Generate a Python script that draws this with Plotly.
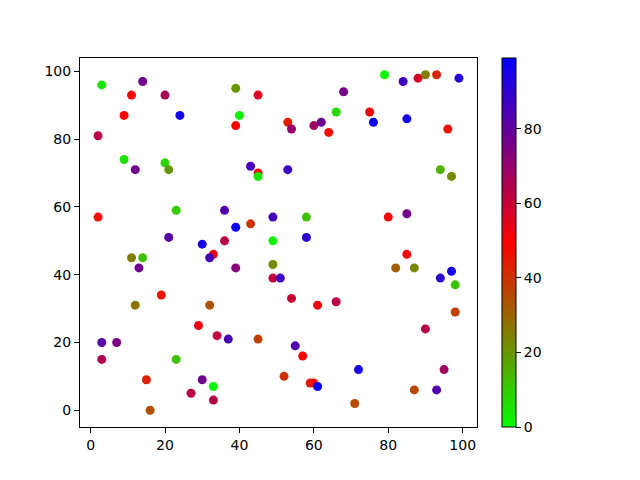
import plotly.graph_objects as go

x_vals = [3, 14, 11, 20, 9, 24, 2, 9, 12, 20, 21, 39, 45, 68, 40, 66, 39, 53, 54, 60,
          62, 64, 43, 45, 45, 53, 79, 84, 88, 90, 93, 99, 75, 76, 85, 96, 94, 97, 2, 23,
          21, 30, 33, 32, 11, 14, 13, 19, 12, 32, 36, 39, 43, 49, 58, 58, 36, 49, 39, 49,
          49, 51, 54, 61, 66, 80, 85, 85, 82, 87, 97, 94, 98, 29, 34, 3, 7, 3, 23, 15,
          30, 33, 27, 33, 16, 37, 45, 55, 57, 52, 59, 60, 61, 98, 90, 72, 95, 87, 93, 71]
y_vals = [96, 97, 93, 93, 87, 87, 81, 74, 71, 73, 71, 95, 93, 94, 87, 88, 84, 85, 83, 84,
          85, 82, 72, 70, 69, 71, 99, 97, 98, 99, 99, 98, 88, 85, 86, 83, 71, 69, 57, 59,
          51, 49, 46, 45, 45, 45, 42, 34, 31, 31, 59, 54, 55, 57, 57, 51, 50, 50, 42, 43,
          39, 39, 33, 31, 32, 57, 58, 46, 42, 42, 41, 39, 37, 25, 22, 20, 20, 15, 15, 9,
          9, 7, 5, 3, 0, 21, 21, 19, 16, 10, 8, 8, 7, 29, 24, 12, 12, 6, 6, 2]
c_vals = [5, 77, 50, 66, 50, 95, 63, 6, 77, 8, 20, 20, 56, 76, 3, 8, 50, 44, 70, 68,
          78, 46, 85, 49, 5, 87, 2, 87, 57, 25, 42, 92, 52, 96, 95, 46, 15, 23, 48, 10,
          82, 95, 52, 85, 25, 12, 77, 46, 27, 33, 83, 97, 40, 86, 12, 90, 63, 3, 73, 22,
          62, 87, 60, 52, 63, 50, 77, 49, 31, 23, 96, 90, 12, 53, 62, 82, 75, 65, 12, 43,
          77, 2, 63, 64, 34, 85, 37, 83, 50, 40, 45, 47, 97, 37, 64, 95, 68, 36, 83, 35]
color_min = 0
color_max = 99
cbar_ticks = [0, 20, 40, 60, 80]
axis_ticks = [0, 20, 40, 60, 80, 100]

def padded(vals):
    lo, hi = min(vals), max(vals)
    p = (hi - lo) * 0.05
    return [lo - p, hi + p]

font = dict(family="DejaVu Sans", size=14, color="black")

fig = go.Figure(go.Scatter(
    x=x_vals, y=y_vals, mode="markers",
    marker=dict(
        size=9, color=c_vals, cmin=color_min, cmax=color_max,
        colorscale=[[0, "#00ff00"], [0.5, "#ff0000"], [1, "#0000ff"]],
        line=dict(width=0),
        colorbar=dict(
            x=1.063, xanchor="left", xref="paper", y=0.5, yanchor="middle",
            len=1, lenmode="fraction", thickness=14, xpad=0, ypad=0,
            outlinewidth=1, outlinecolor="black",
            tickmode="array", tickvals=cbar_ticks,
            ticks="outside", ticklen=5, tickwidth=1, tickcolor="black",
            tickfont=font,
        ),
    ),
    showlegend=False,
))

axis_common = dict(
    showgrid=False, zeroline=False, showline=True, linecolor="black", linewidth=1,
    mirror=True, ticks="outside", ticklen=5, tickwidth=1, tickcolor="black",
    tickfont=font, tickmode="array", tickvals=axis_ticks,
)
fig.update_xaxes(range=padded(x_vals), **axis_common)
fig.update_yaxes(range=padded(y_vals), **axis_common)

fig.update_layout(
    width=632, height=472,
    margin=dict(l=72, r=163, t=50, b=53),
    paper_bgcolor="white", plot_bgcolor="white",
    font=font,
)

fig.write_html("out.html")
